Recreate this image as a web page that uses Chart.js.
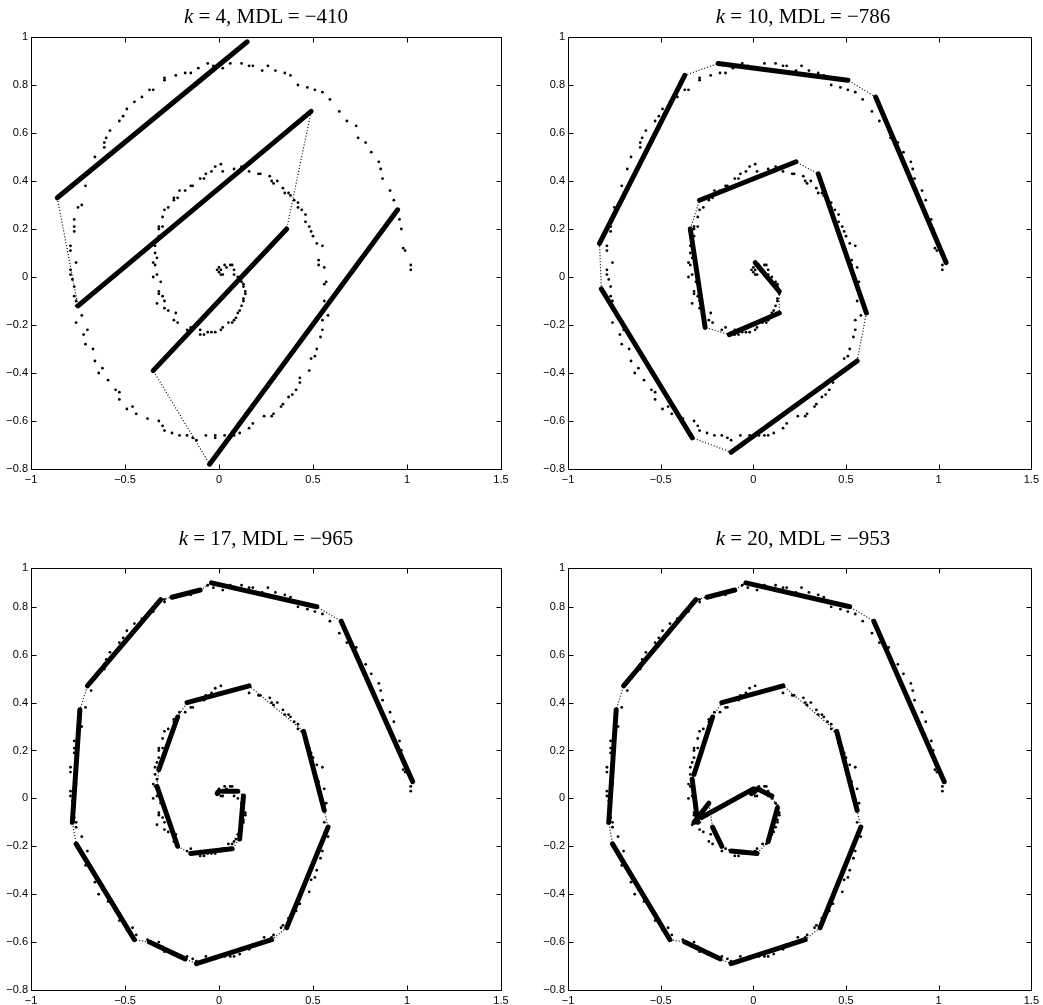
<!DOCTYPE html>
<html>
<head>
<meta charset="utf-8">
<script src="https://cdn.jsdelivr.net/npm/chart.js@4.4.0/dist/chart.umd.min.js"></script>
<style>
  body{margin:0;background:#fff;width:1043px;height:1005px;overflow:hidden;position:relative}
  canvas{position:absolute}
  .ttl{position:absolute;font-family:"Liberation Serif","DejaVu Serif",serif;font-size:21px;line-height:21px;color:#000;white-space:nowrap;transform:translateX(-50%)}
</style>
</head>
<body>
<canvas id="c4" width="520" height="500" style="left:0;top:0"></canvas>
<canvas id="c10" width="506" height="500" style="left:537px;top:0"></canvas>
<canvas id="c17" width="520" height="474" style="left:0;top:531px"></canvas>
<canvas id="c20" width="506" height="474" style="left:537px;top:531px"></canvas>
<div class="ttl" style="left:266px;top:6px"><i>k</i> = 4, MDL = &minus;410</div>
<div class="ttl" style="left:803px;top:6px"><i>k</i> = 10, MDL = &minus;786</div>
<div class="ttl" style="left:266px;top:528px"><i>k</i> = 17, MDL = &minus;965</div>
<div class="ttl" style="left:803px;top:528px"><i>k</i> = 20, MDL = &minus;953</div>
<script>
/* axes */
const xTicks = [-1, -0.5, 0, 0.5, 1, 1.5];
const yTicks = [-0.8, -0.6, -0.4, -0.2, 0, 0.2, 0.4, 0.6, 0.8, 1];
const yTopCut = 0.962;   // lower row: box is cut just above 0.9 but still labelled 1

/* the noisy spiral, outer end first */
const pts = [
  [1.02,0.03],[1.02,0.05],[0.99,0.11],[0.98,0.12],[0.97,0.20],[0.96,0.24],[0.93,0.32],[0.91,0.36],
  [0.87,0.41],[0.86,0.45],[0.85,0.48],[0.81,0.52],[0.78,0.56],[0.74,0.58],[0.73,0.63],[0.68,0.65],
  [0.64,0.69],[0.59,0.74],[0.55,0.77],[0.51,0.78],[0.47,0.79],[0.42,0.80],[0.38,0.84],[0.35,0.85],
  [0.30,0.86],[0.26,0.88],[0.23,0.86],[0.18,0.88],[0.16,0.88],[0.12,0.89],[0.06,0.89],[0.02,0.87],
  [-0.03,0.88],[-0.06,0.89],[-0.11,0.87],[-0.15,0.85],[-0.18,0.85],[-0.23,0.84],[-0.29,0.83],[-0.29,0.82],
  [-0.35,0.78],[-0.37,0.78],[-0.41,0.75],[-0.45,0.73],[-0.49,0.70],[-0.51,0.67],[-0.53,0.65],[-0.58,0.61],
  [-0.60,0.58],[-0.61,0.56],[-0.61,0.54],[-0.66,0.50],[-0.68,0.45],[-0.71,0.38],[-0.73,0.30],[-0.75,0.29],
  [-0.77,0.24],[-0.77,0.21],[-0.77,0.19],[-0.79,0.13],[-0.79,0.11],[-0.76,0.06],[-0.79,0.03],[-0.79,0.01],
  [-0.78,-0.01],[-0.77,-0.04],[-0.77,-0.08],[-0.76,-0.10],[-0.76,-0.12],[-0.73,-0.16],[-0.76,-0.19],[-0.70,-0.22],
  [-0.72,-0.24],[-0.71,-0.28],[-0.67,-0.30],[-0.66,-0.35],[-0.62,-0.38],[-0.64,-0.40],[-0.59,-0.43],[-0.55,-0.47],
  [-0.53,-0.48],[-0.53,-0.51],[-0.49,-0.55],[-0.46,-0.54],[-0.44,-0.57],[-0.38,-0.59],[-0.32,-0.60],[-0.30,-0.62],
  [-0.29,-0.64],[-0.25,-0.65],[-0.21,-0.66],[-0.17,-0.66],[-0.14,-0.67],[-0.12,-0.68],[-0.07,-0.66],[-0.02,-0.66],
  [-0.02,-0.67],[0.03,-0.66],[0.06,-0.66],[0.08,-0.66],[0.11,-0.65],[0.16,-0.63],[0.18,-0.61],[0.24,-0.58],
  [0.28,-0.58],[0.29,-0.57],[0.33,-0.54],[0.34,-0.53],[0.37,-0.50],[0.39,-0.49],[0.41,-0.47],[0.43,-0.44],
  [0.43,-0.42],[0.48,-0.39],[0.49,-0.34],[0.51,-0.33],[0.52,-0.30],[0.54,-0.25],[0.55,-0.22],[0.55,-0.18],
  [0.58,-0.16],[0.56,-0.10],[0.56,-0.03],[0.57,-0.02],[0.56,0.04],[0.53,0.05],[0.53,0.07],[0.55,0.13],
  [0.52,0.14],[0.50,0.17],[0.49,0.19],[0.48,0.21],[0.46,0.23],[0.46,0.26],[0.44,0.28],[0.42,0.29],
  [0.42,0.31],[0.40,0.32],[0.38,0.34],[0.37,0.35],[0.35,0.35],[0.34,0.37],[0.31,0.40],[0.29,0.39],
  [0.28,0.40],[0.27,0.42],[0.22,0.43],[0.21,0.43],[0.16,0.44],[0.12,0.46],[0.08,0.45],[0.02,0.44],
  [0.01,0.47],[-0.02,0.46],[-0.04,0.44],[-0.07,0.43],[-0.08,0.41],[-0.10,0.41],[-0.14,0.38],[-0.15,0.38],
  [-0.18,0.36],[-0.21,0.36],[-0.22,0.33],[-0.24,0.33],[-0.24,0.32],[-0.27,0.29],[-0.29,0.28],[-0.30,0.25],
  [-0.32,0.21],[-0.30,0.21],[-0.32,0.20],[-0.32,0.17],[-0.33,0.15],[-0.34,0.13],[-0.34,0.10],[-0.33,0.08],
  [-0.35,0.06],[-0.34,0.05],[-0.33,0.01],[-0.35,0.00],[-0.31,-0.02],[-0.32,-0.06],[-0.32,-0.07],[-0.30,-0.08],
  [-0.29,-0.10],[-0.33,-0.11],[-0.29,-0.13],[-0.27,-0.14],[-0.23,-0.15],[-0.24,-0.18],[-0.22,-0.19],[-0.17,-0.22],
  [-0.15,-0.21],[-0.10,-0.24],[-0.10,-0.22],[-0.08,-0.24],[-0.06,-0.23],[-0.04,-0.23],[-0.02,-0.23],[0.01,-0.22],
  [0.02,-0.21],[0.05,-0.19],[0.07,-0.19],[0.08,-0.18],[0.09,-0.17],[0.10,-0.15],[0.11,-0.14],[0.12,-0.12],
  [0.13,-0.10],[0.13,-0.09],[0.14,-0.07],[0.14,-0.06],[0.13,-0.04],[0.13,-0.03],[0.12,-0.02],[0.10,0.00],
  [0.08,0.01],[0.08,0.03],[0.07,0.05],[0.06,0.05],[0.04,0.04],[0.03,0.05],[0.02,0.01],[0.01,0.03],
  [0.01,0.01],[0.00,0.02],[0.00,0.04],[-0.01,0.03]
];

/* fitted segments [x1,y1,x2,y2], in chain order (dotted joins end -> next start) */
const segs4 = [
  [0.15,0.98,-0.86,0.33],[-0.75,-0.12,0.49,0.69],[0.36,0.20,-0.35,-0.39],[-0.05,-0.78,0.95,0.28]
];
const segs10 = [
  [1.04,0.06,0.66,0.75],[0.51,0.82,-0.19,0.89],[-0.37,0.84,-0.83,0.14],[-0.82,-0.05,-0.33,-0.67],
  [-0.12,-0.73,0.56,-0.35],[0.61,-0.15,0.35,0.43],[0.23,0.48,-0.29,0.32],[-0.34,0.20,-0.26,-0.21],
  [-0.13,-0.24,0.14,-0.15],[0.14,-0.06,0.01,0.06]
];
const segs17 = [
  [1.03,0.07,0.65,0.74],[0.52,0.80,-0.04,0.90],[-0.10,0.87,-0.25,0.84],[-0.31,0.83,-0.70,0.47],
  [-0.74,0.37,-0.78,-0.10],[-0.76,-0.19,-0.45,-0.59],[-0.37,-0.60,-0.18,-0.67],[-0.12,-0.69,0.28,-0.59],
  [0.36,-0.54,0.58,-0.12],[0.56,-0.05,0.45,0.28],[0.16,0.47,-0.17,0.40],[-0.22,0.34,-0.32,0.12],
  [-0.33,0.05,-0.22,-0.20],[-0.15,-0.23,0.07,-0.21],[0.11,-0.17,0.13,0.01],[0.10,0.03,0.02,0.03],
  [0.00,0.03,-0.01,0.02]
];
const segs20 = [
  [1.03,0.07,0.65,0.74],[0.52,0.80,-0.04,0.90],[-0.10,0.87,-0.25,0.84],[-0.31,0.83,-0.70,0.47],
  [-0.74,0.37,-0.78,-0.10],[-0.76,-0.19,-0.45,-0.59],[-0.37,-0.60,-0.18,-0.67],[-0.12,-0.69,0.28,-0.59],
  [0.36,-0.54,0.58,-0.12],[0.56,-0.05,0.45,0.28],[0.16,0.47,-0.17,0.40],[-0.22,0.34,-0.32,0.10],
  [-0.33,0.08,-0.30,-0.10],[-0.32,-0.10,-0.24,-0.02],[-0.22,-0.12,-0.17,-0.20],[-0.12,-0.22,0.02,-0.23],
  [0.08,-0.18,0.13,-0.04],[0.10,0.01,0.02,0.04],[-0.28,-0.08,0.00,0.04],[0.01,0.03,-0.01,0.02]
];

const fmt = v => String(+v.toFixed(2)).replace('-', '\u2212');

// inside ticks on all four sides plus the box
const frame = {
  id: 'frame',
  afterDraw(ch) {
    const {ctx, chartArea: a, scales: {x, y}} = ch;
    const L = Math.round(a.left) + 0.5, R = Math.round(a.right) + 0.5;
    const T = Math.round(a.top) + 0.5, B = Math.round(a.bottom) + 0.5;
    ctx.save();
    ctx.strokeStyle = '#000'; ctx.lineWidth = 1;
    ctx.strokeRect(L, T, R - L, B - T);
    ctx.beginPath();
    x.ticks.forEach(t => {
      const p = Math.round(x.getPixelForValue(t.value)) + 0.5;
      ctx.moveTo(p, B); ctx.lineTo(p, B - 5);
      ctx.moveTo(p, T); ctx.lineTo(p, T + 5);
    });
    y.ticks.forEach(t => {
      const p = Math.round(y.getPixelForValue(t.value)) + 0.5;
      ctx.moveTo(L, p); ctx.lineTo(L + 5, p);
      ctx.moveTo(R, p); ctx.lineTo(R - 5, p);
    });
    ctx.stroke();
    ctx.restore();
  }
};

function panel(id, segs, cut, padRight, xH) {
  const chain = [], thick = [];
  segs.forEach(s => {
    chain.push({x: s[0], y: s[1]}, {x: s[2], y: s[3]});
    thick.push({x: s[0], y: s[1]}, {x: s[2], y: s[3]}, {x: NaN, y: NaN});
  });
  const yt = cut ? yTicks.slice(0, -1).concat([yTopCut]) : yTicks;
  const tickFont = {family: '"Liberation Sans", Arial, sans-serif', size: 11};
  new Chart(document.getElementById(id), {
    type: 'scatter',
    data: {datasets: [
      {data: pts.map(p => ({x: p[0], y: p[1]})), pointRadius: 1.4, pointBackgroundColor: '#000', pointBorderWidth: 0, showLine: false},
      {data: thick, showLine: true, borderColor: '#000', borderWidth: 5, borderCapStyle: 'round', pointRadius: 0, spanGaps: false},
      {data: chain, showLine: true, borderColor: '#000', borderWidth: 1.2, borderDash: [1, 2], pointRadius: 0}
    ]},
    options: {
      responsive: false, animation: false, devicePixelRatio: 1,
      layout: {padding: {top: 37, right: padRight, left: 0, bottom: 0}},
      plugins: {legend: {display: false}, tooltip: {enabled: false}},
      scales: {
        x: {
          type: 'linear', min: -1, max: 1.5,
          afterBuildTicks: s => { s.ticks = xTicks.map(v => ({value: v})); },
          afterFit: s => { s.height = xH; },
          grid: {display: false, drawTicks: false}, border: {display: false},
          ticks: {callback: v => fmt(v), color: '#000', font: tickFont, padding: 4, maxRotation: 0, autoSkip: false}
        },
        y: {
          type: 'linear', min: -0.8, max: cut ? yTopCut : 1,
          afterBuildTicks: s => { s.ticks = yt.map(v => ({value: v})); },
          afterFit: s => { s.width = 31; },
          grid: {display: false, drawTicks: false}, border: {display: false},
          ticks: {callback: v => v > 0.95 ? '1' : fmt(v), color: '#000', font: tickFont, padding: 3, autoSkip: false}
        }
      }
    },
    plugins: [frame]
  });
}

panel('c4', segs4, false, 19, 31);
panel('c10', segs10, false, 5, 31);
panel('c17', segs17, true, 19, 15);
panel('c20', segs20, true, 5, 15);
</script>
</body>
</html>
